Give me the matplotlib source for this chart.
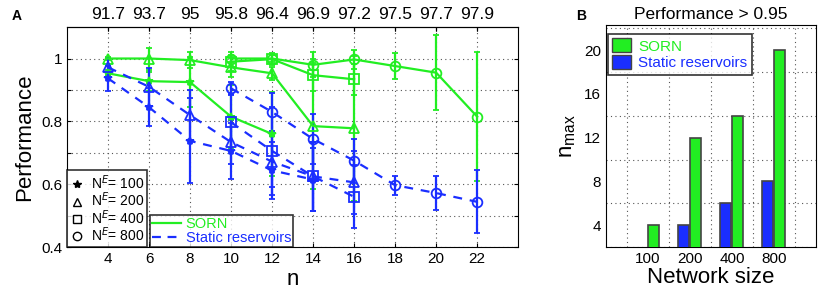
import numpy as np
import matplotlib
matplotlib.use('Agg')
import matplotlib.pyplot as plt
from matplotlib.lines import Line2D
from matplotlib.patches import Patch

plt.rcParams['font.family'] = ['Liberation Sans', 'DejaVu Sans']
plt.rcParams['mathtext.fontset'] = 'custom'
plt.rcParams['mathtext.rm'] = 'Liberation Sans'

GREEN = '#22ee22'
BLUE = '#1a2eff'

# Panel A data: performance vs n for different network sizes N^E
n_100 = [4, 6, 8, 10, 12]
n_200 = [4, 6, 8, 10, 12, 14, 16]
n_400 = [10, 12, 14, 16]
n_800 = [10, 12, 14, 16, 18, 20, 22]
n_100_static = [4, 6, 8, 10, 12, 14]

sorn_100 = [0.953, 0.928, 0.925, 0.815, 0.76]
sorn_100_err = [0.01, 0.03, 0.08, 0.1, 0.135]
sorn_200 = [1.0, 1.0, 0.995, 0.972, 0.953, 0.785, 0.778]
sorn_200_err = [0.005, 0.035, 0.025, 0.03, 0.02, 0.2, 0.23]
sorn_400 = [0.99, 0.998, 0.947, 0.934]
sorn_400_err = [0.03, 0.02, 0.05, 0.05]
sorn_800 = [1.0, 1.0, 0.98, 0.997, 0.976, 0.955, 0.815]
sorn_800_err = [0.01, 0.01, 0.04, 0.03, 0.04, 0.12, 0.205]

static_100 = [0.937, 0.845, 0.738, 0.706, 0.644, 0.615]
static_100_err = [0.04, 0.06, 0.135, 0.09, 0.09, 0.1]
static_200 = [0.972, 0.91, 0.82, 0.734, 0.672, 0.625, 0.606]
static_200_err = [0.03, 0.06, 0.08, 0.07, 0.08, 0.11, 0.1]
static_400 = [0.797, 0.706, 0.625, 0.56]
static_400_err = [0.09, 0.14, 0.11, 0.1]
static_800 = [0.905, 0.83, 0.744, 0.675, 0.597, 0.572, 0.544]
static_800_err = [0.02, 0.06, 0.08, 0.07, 0.03, 0.055, 0.1]

n_ticks = [4, 6, 8, 10, 12, 14, 16, 18, 20, 22]
top_labels = ['91.7', '93.7', '95', '95.8', '96.4', '96.9', '97.2', '97.5', '97.7', '97.9']

# Panel B data: n_max with performance > 0.95
sizes = ['100', '200', '400', '800']
nmax_sorn = [4, 12, 14, 20]
nmax_static = [0, 4, 6, 8]

fig = plt.figure(figsize=(8.31, 3.01), dpi=100)
axA = fig.add_axes([0.0806, 0.179, 0.543, 0.731])
axB = fig.add_axes([0.729, 0.179, 0.253, 0.738])

markers = {'100': '*', '200': '^', '400': 's', '800': 'o'}

def draw(ax, x, y, err, color, ls, mk):
    ax.errorbar(x, y, yerr=err, color=color, ls=ls, lw=1.6, marker=mk,
                ms=7 if mk != '*' else 6, mfc='none' if mk != '*' else color,
                mec=color, mew=1.3, capsize=2.5, elinewidth=1.6, capthick=1.3,
                dashes=(4, 3.5) if ls == '--' else (None, None))

# SORN (solid green)
draw(axA, n_100, sorn_100, sorn_100_err, GREEN, '-', '*')
draw(axA, n_200, sorn_200, sorn_200_err, GREEN, '-', '^')
draw(axA, n_400, sorn_400, sorn_400_err, GREEN, '-', 's')
draw(axA, n_800, sorn_800, sorn_800_err, GREEN, '-', 'o')
# static reservoirs (dashed blue)
draw(axA, n_100_static, static_100, static_100_err, BLUE, '--', '*')
draw(axA, n_200, static_200, static_200_err, BLUE, '--', '^')
draw(axA, n_400, static_400, static_400_err, BLUE, '--', 's')
draw(axA, n_800, static_800, static_800_err, BLUE, '--', 'o')

axA.set_xlim(2, 24)
axA.set_ylim(0.4, 1.1)
axA.set_xticks(n_ticks)
axA.set_yticks(np.arange(0.4, 1.01, 0.1))
axA.set_yticklabels(['0.4', '', '0.6', '', '0.8', '', '1'])
axA.grid(True, ls=(0, (1, 3)), color='#555555', lw=0.8)
axA.tick_params(direction='in', top=True, right=True, labelsize=11, length=3)
axA.set_xlabel('n', fontsize=16, labelpad=2)
axA.set_ylabel('Performance', fontsize=16)

top = axA.secondary_xaxis('top')
top.set_xticks(n_ticks)
top.set_xticklabels(top_labels)
top.tick_params(direction='in', labelsize=12.5, length=3)

# legend with marker shapes
mk_handles = [Line2D([], [], ls='none', marker=markers[k], color='k', mfc='none' if k != '100' else 'k',
                     ms=6) for k in ['100', '200', '400', '800']]
leg1 = axA.legend(mk_handles, ['N$^E$= 100', 'N$^E$= 200', 'N$^E$= 400', 'N$^E$= 800'],
                  loc='lower left', bbox_to_anchor=(0, 0), fontsize=10, frameon=True, fancybox=False,
                  edgecolor='k', handlelength=1.0, handletextpad=0.5, labelspacing=-0.08,
                  borderpad=0.2, borderaxespad=0)
leg1.get_frame().set_linewidth(1.2)
axA.add_artist(leg1)

ln_handles = [Line2D([], [], color=GREEN, lw=1.6),
              Line2D([], [], color=BLUE, lw=1.6, ls='--', dashes=(4, 3))]
leg2 = axA.legend(ln_handles, ['SORN', 'Static reservoirs'], loc='lower left',
                  bbox_to_anchor=(0.184, 0), fontsize=10.5, frameon=True, fancybox=False,
                  edgecolor='k', handlelength=2.0, handletextpad=0.3, labelspacing=0.0,
                  borderpad=0.15, borderaxespad=0)
leg2.get_frame().set_linewidth(1.2)
for t, c in zip(leg2.get_texts(), [GREEN, BLUE]):
    t.set_color(c)

# Panel B bars
pos = np.arange(1, len(sizes) + 1)
axB.bar(pos - 0.15, nmax_static, width=0.26, color=BLUE, edgecolor='#444444', lw=1.2, zorder=3)
axB.bar(pos + 0.13, nmax_sorn, width=0.26, color=GREEN, edgecolor='#444444', lw=1.2, zorder=3)
axB.set_xlim(0, 5)
axB.set_ylim(2, 22.3)
axB.set_xticks(pos)
axB.set_xticklabels(sizes)
axB.set_xticks(np.arange(0.5, 5, 1), minor=True)
axB.set_yticks([4, 8, 12, 16, 20])
axB.set_yticks(np.arange(2, 23, 2), minor=True)
axB.grid(True, which='minor', ls=(0, (1, 3)), color='#555555', lw=0.8)
axB.tick_params(which='both', direction='in', top=True, right=True, labelsize=11, length=0)
axB.set_xlabel('Network size', fontsize=16, labelpad=1)
axB.set_ylabel('n$_{\\rm max}$', fontsize=16)
axB.set_title('Performance > 0.95', fontsize=12.5, pad=4)

bar_handles = [Patch(facecolor=GREEN, edgecolor='#444444'), Patch(facecolor=BLUE, edgecolor='#444444')]
leg3 = axB.legend(bar_handles, ['SORN', 'Static reservoirs'], loc='upper left',
                  bbox_to_anchor=(0.01, 0.96), fontsize=11, frameon=True, fancybox=False,
                  edgecolor='k', handlelength=1.2, handleheight=1.0, handletextpad=0.5,
                  labelspacing=0.1, borderpad=0.3, borderaxespad=0)
leg3.get_frame().set_linewidth(1.2)
for t, c in zip(leg3.get_texts(), [GREEN, BLUE]):
    t.set_color(c)

fig.text(0.014, 0.935, 'A', fontsize=10, fontweight='bold')
fig.text(0.693, 0.935, 'B', fontsize=10, fontweight='bold')

plt.savefig('out.png', dpi=100)
